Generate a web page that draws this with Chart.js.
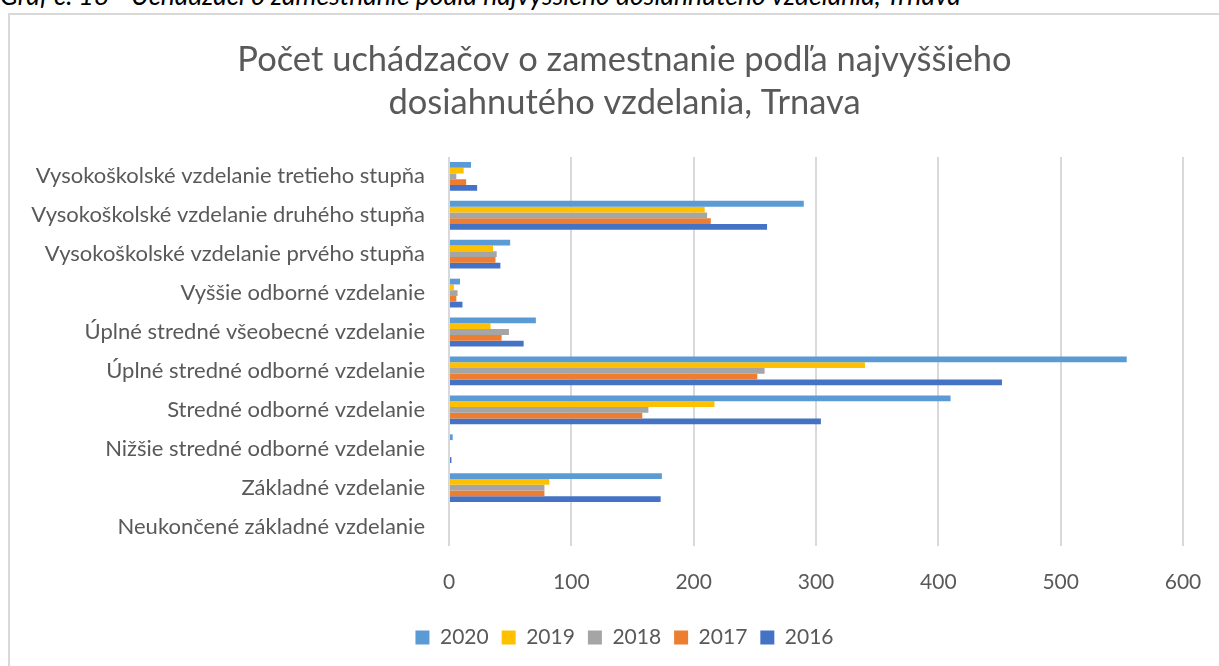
<!DOCTYPE html>
<html>
<head>
<meta charset="utf-8">
<script src="https://cdn.jsdelivr.net/npm/chart.js@4/dist/chart.umd.min.js"></script>
<style>
  html, body { margin: 0; padding: 0; background: #fff; overflow: hidden; }
  #caption {
    position: absolute; left: 0; top: -18px;
    font: italic 26.5px Lato, sans-serif; color: #000; line-height: 26px; white-space: nowrap;
  }
  #frame {
    position: absolute; left: 8px; top: 13px; width: 1300px; height: 700px;
    border: 2px solid #d9d9d9;
  }
  #wrap { position: absolute; left: 0; top: 0; width: 1219px; height: 666px; }
</style>
</head>
<body>
<div id="caption">Graf č. 18 - Uchádzači o zamestnanie podľa najvyššieho dosiahnutého vzdelania, Trnava</div>
<div id="frame"></div>
<div id="wrap"><canvas id="chart" width="1219" height="666"></canvas></div>
<script>
// categories, top to bottom as drawn
const categories = [
    "Vysokoškolské vzdelanie tretieho stupňa",
    "Vysokoškolské vzdelanie druhého stupňa",
    "Vysokoškolské vzdelanie prvého stupňa",
    "Vyššie odborné vzdelanie",
    "Úplné stredné všeobecné vzdelanie",
    "Úplné stredné odborné vzdelanie",
    "Stredné odborné vzdelanie",
    "Nižšie stredné odborné vzdelanie",
    "Základné vzdelanie",
    "Neukončené základné vzdelanie"
];

const years = ["2020", "2019", "2018", "2017", "2016"];
const colors = ["#5b9bd5", "#ffc000", "#a5a5a5", "#ed7d31", "#4472c4"];

const values2020 = [18, 290, 50, 9, 71, 554, 410, 3, 174, 0];
const values2019 = [12, 209, 36, 4, 34, 340, 217, 0, 82, 0];
const values2018 = [6, 211, 39, 7, 49, 258, 163, 0, 78, 0];
const values2017 = [14, 214, 38, 6, 43, 252, 158, 0, 78, 0];
const values2016 = [23, 260, 42, 11, 61, 452, 304, 2, 173, 0];

const xTicks = [0, 100, 200, 300, 400, 500, 600];

const series = [values2020, values2019, values2018, values2017, values2016];
const textColor = "#595959";

const ctx = document.getElementById('chart').getContext('2d');

const chart = new Chart(ctx, {
    type: 'bar',
    data: {
        labels: categories,
        datasets: series.map((vals, i) => ({
            label: years[i],
            data: vals,
            backgroundColor: colors[i],
            categoryPercentage: 0.74,
            barPercentage: 1.0
        }))
    },
    options: {
        indexAxis: 'y',
        responsive: false,
        animation: false,
        layout: { padding: { left: 30, right: 0, top: 0, bottom: 8 } },
        scales: {
            x: {
                min: xTicks[0],
                max: xTicks[xTicks.length - 1],
                afterBuildTicks: (scale) => { scale.ticks = xTicks.map(v => ({ value: v })); },
                grid: { color: "#d9d9d9", lineWidth: 2, drawTicks: false },
                border: { display: false },
                ticks: { color: textColor, font: { family: "Lato", size: 21 }, padding: 24 },
                afterFit: (scale) => { scale.height = 68; scale.paddingRight = 36; }
            },
            y: {
                grid: { display: false, drawTicks: false },
                border: { display: false },
                ticks: { color: textColor, font: { family: "Lato", size: 22 }, padding: 24, autoSkip: false },
                afterFit: (scale) => { scale.width = 419; }
            }
        },
        plugins: {
            title: {
                display: true,
                text: ["Počet uchádzačov o zamestnanie podľa najvyššieho", "dosiahnutého vzdelania, Trnava"],
                color: textColor,
                font: { family: "Lato", size: 34.5, weight: 'normal', lineHeight: 1.245 },
                padding: { top: 38, bottom: 33 }
            },
            legend: {
                position: 'bottom',
                labels: {
                    color: textColor,
                    font: { family: "Lato", size: 21 },
                    boxWidth: 14,
                    boxHeight: 14,
                    padding: 13
                }
            },
            tooltip: { enabled: false }
        }
    }
});
</script>
</body>
</html>
